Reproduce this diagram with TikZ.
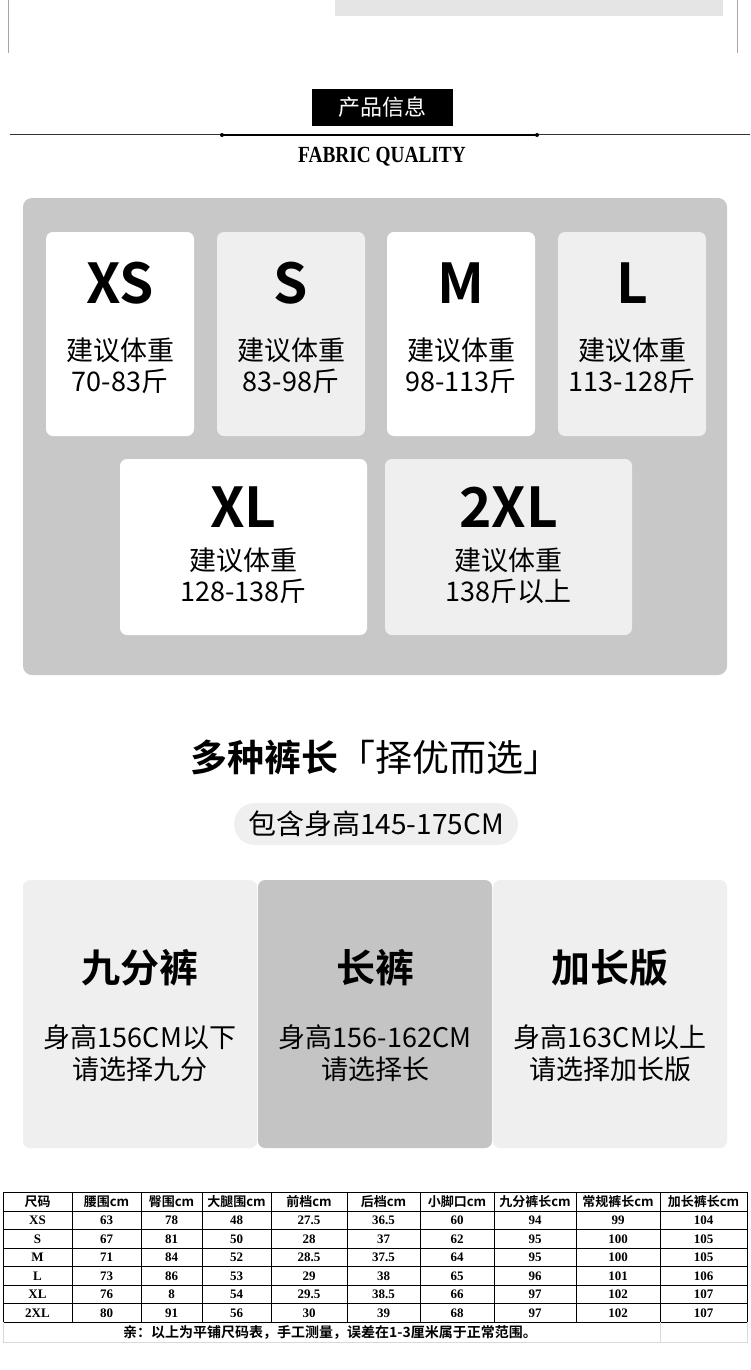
\documentclass[tikz,border=0pt]{standalone}
\usepackage{fontspec}
\setmainfont{Liberation Serif}
\newfontfamily\cjk{Noto Sans CJK SC}
\newfontfamily\cjkb{Noto Sans CJK SC Bold}
\newcommand\fs[1]{\fontsize{#1}{#1}\selectfont}
\newcommand\fsl[2]{\fontsize{#1}{#2}\selectfont}
\definecolor{lg}{HTML}{EFEFEF}
\definecolor{mg}{HTML}{C8C8C8}
\definecolor{cg}{HTML}{C4C4C4}
\definecolor{tg}{HTML}{E5E5E5}
\begin{document}
\begin{tikzpicture}[x=1pt,y=-1pt,
  card/.style={rounded corners=7pt,inner sep=0},
  big/.style={font=\cjkb\fs{55}},
  sub/.style={font=\cjk\fsl{27}{31},align=center},
  ttl/.style={font=\cjkb\fs{39}},
  cell/.style={font=\bfseries\fs{13},inner sep=0}]
\useasboundingbox[fill=white] (0,0) rectangle (750,1370);
% top
\draw[gray!70,line width=1pt] (8,0) -- (8,53) (737,0) -- (737,53);
\fill[tg] (335,0) rectangle (723,16);
\node[fill=black,minimum width=141,minimum height=37,text=white,font=\cjk\fs{22}] (pi) at (382.5,107.5) {产品信息};
\draw[line width=1pt,black!80] (10,135) -- (750,135);
\draw[line width=2.2pt] (222,135) -- (537,135);
\fill (222,135) circle (2) (537,135) circle (2);
\node[font=\bfseries\fs{21},xscale=0.92,yscale=1.1] (fq) at (382,157) {FABRIC QUALITY};
% size cards
\fill[mg,rounded corners=9pt] (23,198) rectangle (727,675);
\foreach \x/\c/\s/\r [count=\i] in {46/white/XS/70-83斤,217/lg/S/83-98斤,387/white/M/98-113斤,558/lg/L/113-128斤}{
  \fill[\c,card] (\x,232) rectangle ++(148,204);
  \node[big] (s\i) at (\x+74,283) {\s};
  \node[sub] (w\i) at (\x+74,366) {建议体重\\\r};
}
\foreach \x/\c/\s/\r [count=\i from 5] in {120/white/XL/128-138斤,385/lg/2XL/138斤以上}{
  \fill[\c,card] (\x,459) rectangle ++(247,176);
  \node[big] (s\i) at (\x+123.5,507) {\s};
  \node[sub] (w\i) at (\x+123.5,576) {建议体重\\\r};
}
% title
\node[font=\fs{37}] (t) at (375,757) {{\cjkb 多种裤长}{\cjk 「择优而选」}};
\fill[lg,rounded corners=21pt] (234,803) rectangle (518,845);
\node[font=\cjk\fs{28}] (p) at (376,824) {包含身高145-175CM};
% length cards
\fill[lg,card] (23,880) rectangle (257,1148);
\fill[cg,card] (258,880) rectangle (492,1148);
\fill[lg,card] (493,880) rectangle (727,1148);
\node[ttl] (a1) at (140,968) {九分裤};
\node[ttl] (a2) at (375,968) {长裤};
\node[ttl] (a3) at (610,968) {加长版};
\node[sub,font=\cjk\fsl{27}{32}] (b1) at (140,1053) {身高156CM以下\\请选择九分};
\node[sub,font=\cjk\fsl{27}{32}] (b2) at (375,1053) {身高156-162CM\\请选择长};
\node[sub,font=\cjk\fsl{27}{32}] (b3) at (610,1053) {身高163CM以上\\请选择加长版};
% table
\def\xs{{3,72,141,202,271,347,420,494,576,660,747}}
\foreach \y in {1192,1211,1229.5,1248,1266.5,1285,1303.5,1322}
  \draw[line width=0.8pt] (3,\y) -- (747,\y);
\foreach \x in {3,72,141,202,271,347,420,494,576,660,747}
  \draw[line width=0.8pt] (\x,1192) -- (\x,1322);
\draw[black!15] (3,1322) -- (3,1342) -- (747,1342) -- (747,1322);
\draw[black!15] (660,1322) -- (660,1342);
\foreach \t [count=\i from 0] in {尺码,腰围cm,臀围cm,大腿围cm,前档cm,后档cm,小脚口cm,九分裤长cm,常规裤长cm,加长裤长cm}{
  \pgfmathsetmacro\xa{\xs[\i]}\pgfmathsetmacro\xb{\xs[\i+1]}
  \node[cell,font=\cjkb\fs{13}] (h\i) at ({(\xa+\xb)/2},1201.5) {\t};
}
\foreach \row [count=\r from 0] in {
  {XS,63,78,48,27.5,36.5,60,94,99,104},
  {S,67,81,50,28,37,62,95,100,105},
  {M,71,84,52,28.5,37.5,64,95,100,105},
  {L,73,86,53,29,38,65,96,101,106},
  {XL,76,8,54,29.5,38.5,66,97,102,107},
  {2XL,80,91,56,30,39,68,97,102,107}}{
  \foreach \v [count=\i from 0] in \row {
    \pgfmathsetmacro\xa{\xs[\i]}\pgfmathsetmacro\xb{\xs[\i+1]}
    \node[cell] (c\r-\i) at ({(\xa+\xb)/2},{1220.25+18.5*\r}) {\v};
  }
}
\node[font=\cjkb\fs{14}] (note) at (330,1332) {亲：以上为平铺尺码表，手工测量，误差在1-3厘米属于正常范围。};
\end{tikzpicture}
\end{document}
